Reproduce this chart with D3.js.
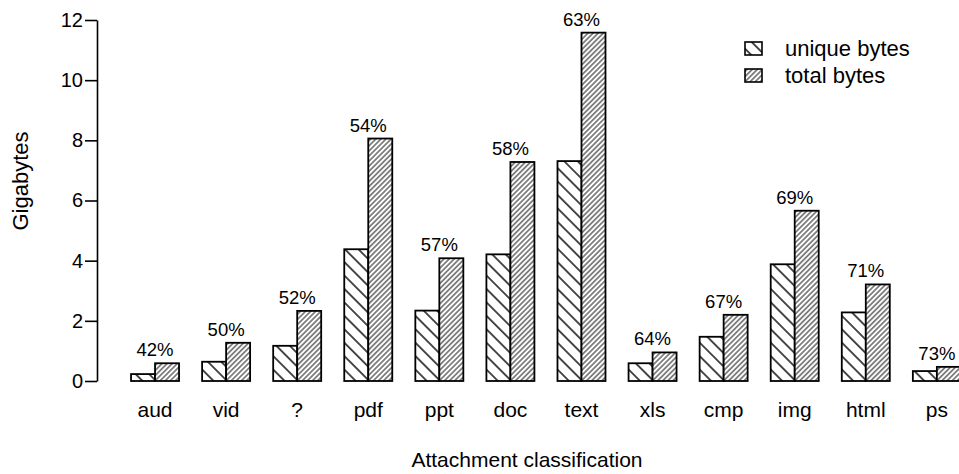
<!DOCTYPE html>
<html>
<head>
<meta charset="utf-8">
<script src="https://cdn.jsdelivr.net/npm/d3@7"></script>
<style>
  html, body { margin: 0; padding: 0; background: #fff; }
  svg { display: block; font-family: "Liberation Sans", Arial, sans-serif; }
</style>
</head>
<body>
<svg id="chart" width="959" height="474"></svg>
<script>
// Attachment classes and their storage footprint (GB)
const categories = ["aud", "vid", "?", "pdf", "ppt", "doc", "text", "xls", "cmp", "img", "html", "ps"];
const uniqueBytes = [0.23, 0.64, 1.17, 4.38, 2.34, 4.21, 7.31, 0.59, 1.47, 3.88, 2.28, 0.33];
const totalBytes  = [0.59, 1.27, 2.33, 8.06, 4.08, 7.28, 11.58, 0.95, 2.20, 5.66, 3.21, 0.47];
const shareLabels = ["42%", "50%", "52%", "54%", "57%", "58%", "63%", "64%", "67%", "69%", "71%", "73%"];
const yTicks = [0, 2, 4, 6, 8, 10, 12];
const seriesNames = ["unique bytes", "total bytes"];

const svg = d3.select("#chart");
const defs = svg.append("defs");

// Sparse black back-slash hatch for unique bytes
const pu = defs.append("pattern")
  .attr("id", "hatch-unique")
  .attr("patternUnits", "userSpaceOnUse")
  .attr("width", 9.5).attr("height", 9.5)
  .attr("patternTransform", "rotate(-45)");
pu.append("rect").attr("width", 9.5).attr("height", 9.5).attr("fill", "#fff");
pu.append("line").attr("x1", 4.75).attr("y1", 0).attr("x2", 4.75).attr("y2", 9.5)
  .attr("stroke", "#000").attr("stroke-width", 1.4);

// Dense grey forward-slash hatch for total bytes
const pt = defs.append("pattern")
  .attr("id", "hatch-total")
  .attr("patternUnits", "userSpaceOnUse")
  .attr("width", 3.6).attr("height", 3.6)
  .attr("patternTransform", "rotate(45)");
pt.append("rect").attr("width", 3.6).attr("height", 3.6).attr("fill", "#fff");
pt.append("line").attr("x1", 1.8).attr("y1", 0).attr("x2", 1.8).attr("y2", 3.6)
  .attr("stroke", "#6e6e6e").attr("stroke-width", 1.6);

const fills = ["url(#hatch-unique)", "url(#hatch-total)"];

const y = d3.scaleLinear().domain([0, 12]).range([381, 20]);

const groupPad = 1 - 48 / 71.07;
const x = d3.scaleBand()
  .domain(categories)
  .range([119.5, 972.4])
  .paddingInner(groupPad)
  .paddingOuter(groupPad / 2);

const xs = d3.scaleBand().domain([0, 1]).range([0, x.bandwidth()]);

// Y axis
const yAxis = svg.append("g")
  .attr("transform", "translate(97,0)")
  .call(d3.axisLeft(y).tickValues(yTicks).tickSize(12).tickPadding(2).tickSizeOuter(0));
yAxis.select(".domain").attr("stroke", "#000").attr("stroke-width", 1.6);
yAxis.selectAll(".tick line").attr("stroke", "#000").attr("stroke-width", 1.6);
yAxis.selectAll(".tick text")
  .attr("font-size", 20).attr("fill", "#000")
  .attr("font-family", "Liberation Sans, Arial, sans-serif");

// Bars
const rows = categories.map((c, i) => ({ c, vals: [uniqueBytes[i], totalBytes[i]], label: shareLabels[i] }));
const groups = svg.append("g").selectAll("g")
  .data(rows).join("g")
  .attr("transform", d => `translate(${x(d.c)},0)`);

groups.selectAll("rect")
  .data(d => d.vals.map((v, k) => ({ v, k })))
  .join("rect")
  .attr("x", d => xs(d.k))
  .attr("width", xs.bandwidth())
  .attr("y", d => y(d.v))
  .attr("height", d => y(0) - y(d.v))
  .attr("fill", d => fills[d.k])
  .attr("stroke", "#000")
  .attr("stroke-width", 1.8);

// Percentage labels above each group
groups.append("text")
  .attr("x", x.bandwidth() / 2)
  .attr("y", d => y(d.vals[1]) - 7)
  .attr("text-anchor", "middle")
  .attr("font-size", 18.5)
  .text(d => d.label);

// Category labels
svg.append("g").selectAll("text")
  .data(categories).join("text")
  .attr("x", d => x(d) + x.bandwidth() / 2)
  .attr("y", 417)
  .attr("text-anchor", "middle")
  .attr("font-size", 21)
  .text(d => d);

// Axis titles
svg.append("text")
  .attr("x", 527).attr("y", 467)
  .attr("text-anchor", "middle")
  .attr("font-size", 21)
  .text("Attachment classification");

svg.append("text")
  .attr("transform", "translate(28,181) rotate(-90)")
  .attr("text-anchor", "middle")
  .attr("font-size", 22)
  .text("Gigabytes");

// Legend
const legend = svg.append("g").selectAll("g")
  .data(seriesNames).join("g")
  .attr("transform", (d, i) => `translate(745,${42 + i * 27})`);
legend.append("rect")
  .attr("width", 17).attr("height", 13)
  .attr("fill", (d, i) => fills[i])
  .attr("stroke", "#000").attr("stroke-width", 1.6);
legend.append("text")
  .attr("x", 40).attr("y", 14)
  .attr("font-size", 22)
  .text(d => d);
</script>
</body>
</html>
